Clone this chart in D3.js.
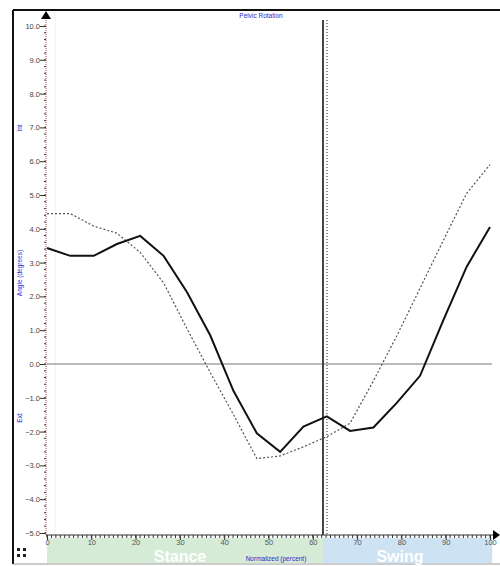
<!DOCTYPE html>
<html>
<head>
<meta charset="utf-8">
<script src="https://cdn.jsdelivr.net/npm/d3@7"></script>
<style>
  body { margin:0; background:#fff; }
  text { font-family: Arial, "Liberation Sans", sans-serif; }
</style>
</head>
<body>
<svg></svg>
<script>

// percent of gait cycle (20 samples)
var percent = [0, 5.26, 10.53, 15.79, 21.05, 26.32, 31.58, 36.84, 42.11, 47.37,
               52.63, 57.89, 63.16, 68.42, 73.68, 78.95, 84.21, 89.47, 94.74, 100];

// patient (solid) and normal (dotted) pelvic rotation, degrees
var patient = [3.43, 3.2, 3.2, 3.55, 3.79, 3.2, 2.13, 0.85, -0.8, -2.05,
               -2.6, -1.85, -1.55, -1.98, -1.88, -1.15, -0.35, 1.3, 2.88, 4.05];
var normal  = [4.45, 4.45, 4.08, 3.87, 3.3, 2.4, 1.05, -0.25, -1.5, -2.8,
               -2.72, -2.45, -2.15, -1.75, -0.5, 0.83, 2.24, 3.66, 5.05, 5.9];

var yTicks = [10, 9, 8, 7, 6, 5, 4, 3, 2, 1, 0, -1, -2, -3, -4, -5];
var xTicks = [0, 10, 20, 30, 40, 50, 60, 70, 80, 90, 100];

var toeOff = 62.3;      // solid vertical
var toeOffNorm = 63.2;  // dotted vertical

var phases = [
  {name:"Stance", from:0, to:62.3, color:"#d5ebd6"},
  {name:"Swing", from:62.3, to:100.5, color:"#cde2f3"}
];

var screen = {width:500, height:566};

var svg = d3.select("svg").attr("width", screen.width).attr("height", screen.height);

var xScale = d3.scaleLinear().domain([0,100]).range([47,490]);
var yScale = d3.scaleLinear().domain([-5,10]).range([533,26]);

var axisY = 535;

// frame
svg.append("line").attr("x1",13).attr("x2",500).attr("y1",10).attr("y2",10)
   .attr("stroke","#111").attr("stroke-width",2);
svg.append("line").attr("x1",13).attr("x2",13).attr("y1",10).attr("y2",564)
   .attr("stroke","#111").attr("stroke-width",2);
svg.append("line").attr("x1",13).attr("x2",500).attr("y1",564).attr("y2",564)
   .attr("stroke","#999").attr("stroke-width",1);

// phase bands
svg.selectAll("rect.phase")
  .data(phases)
  .enter()
  .append("rect")
  .attr("class","phase")
  .attr("x",function(d){return xScale(d.from);})
  .attr("width",function(d){return xScale(d.to)-xScale(d.from);})
  .attr("y",axisY+3)
  .attr("height",25)
  .attr("fill",function(d){return d.color;});

svg.selectAll("text.phase")
  .data(phases)
  .enter()
  .append("text")
  .attr("class","phase")
  .attr("x",function(d){return d.name=="Stance" ? 180 : 400;})
  .attr("y",562)
  .attr("text-anchor","middle")
  .attr("fill","#fff")
  .attr("font-size",16)
  .attr("font-weight","bold")
  .text(function(d){return d.name;});

// faint guide right of the y axis
svg.append("line").attr("x1",55).attr("x2",55).attr("y1",12).attr("y2",axisY)
   .attr("stroke","#eef0f4").attr("stroke-width",1);

// zero line
svg.append("line")
   .attr("x1",xScale(0)).attr("x2",xScale(100)+2)
   .attr("y1",yScale(0)).attr("y2",yScale(0))
   .attr("stroke","#777").attr("stroke-width",1);

// toe-off lines
svg.append("line")
   .attr("x1",xScale(toeOff)).attr("x2",xScale(toeOff))
   .attr("y1",20).attr("y2",axisY)
   .attr("stroke","#444").attr("stroke-width",2);
svg.append("line")
   .attr("x1",xScale(toeOffNorm)).attr("x2",xScale(toeOffNorm))
   .attr("y1",20).attr("y2",axisY)
   .attr("stroke","#222").attr("stroke-width",1).attr("stroke-dasharray","1,2");

// y axis: reddish dotted line, minor + major ticks
var yAxis = d3.axisLeft(yScale)
  .tickValues(yTicks)
  .tickSize(6)
  .tickFormat(d3.format(".1f"));

var gy = svg.append("g").attr("transform","translate(46,0)").call(yAxis);
gy.select(".domain").remove();
gy.selectAll(".tick line").attr("stroke","#333");
gy.selectAll(".tick text").attr("font-size",7.5).attr("fill","#444").attr("x",-6);

var minorY = d3.range(-50,101,2).map(function(v){return v/10;});
gy.selectAll("line.minor")
  .data(minorY)
  .enter()
  .append("line")
  .attr("class","minor")
  .attr("x1",-2).attr("x2",0)
  .attr("y1",function(d){return yScale(d);})
  .attr("y2",function(d){return yScale(d);})
  .attr("stroke","#333");

gy.append("line")
  .attr("x1",0).attr("x2",0).attr("y1",14).attr("y2",axisY)
  .attr("stroke","#b05050").attr("stroke-width",1).attr("stroke-dasharray","1,1");

svg.append("path").attr("d","M46,11 L41,19 L51,19 Z").attr("fill","#000");

// x axis
var xAxis = d3.axisBottom(xScale)
  .tickValues(xTicks)
  .tickSize(5)
  .tickFormat(d3.format("d"));

var gx = svg.append("g").attr("transform","translate(0,"+axisY+")").call(xAxis);
gx.select(".domain").remove();
gx.selectAll(".tick line").attr("stroke","#333");
gx.selectAll(".tick text").attr("font-size",7.5).attr("fill","#555").attr("y",5);

gx.selectAll("line.minor")
  .data(d3.range(0,101,1))
  .enter()
  .append("line")
  .attr("class","minor")
  .attr("x1",function(d){return xScale(d);})
  .attr("x2",function(d){return xScale(d);})
  .attr("y1",0).attr("y2",3)
  .attr("stroke","#333");

gx.append("line").attr("x1",46).attr("x2",494).attr("y1",0).attr("y2",0)
  .attr("stroke","#333").attr("stroke-width",1);
svg.append("path").attr("d","M500,"+axisY+" L493,"+(axisY-5)+" L493,"+(axisY+5)+" Z").attr("fill","#000");

// curves
var line = d3.line()
  .x(function(d,i){return xScale(percent[i]);})
  .y(function(d){return yScale(d);});

svg.append("path").datum(normal)
  .attr("d",line)
  .attr("fill","none")
  .attr("stroke","#555")
  .attr("stroke-width",1.2)
  .attr("stroke-dasharray","2,2");

svg.append("path").datum(patient)
  .attr("d",line)
  .attr("fill","none")
  .attr("stroke","#111")
  .attr("stroke-width",2);

// labels
svg.append("text").attr("x",261).attr("y",18).attr("text-anchor","middle")
   .attr("font-size",6.5).attr("fill","#2a2ad0").text("Pelvic Rotation");

svg.append("text").attr("x",276).attr("y",561).attr("text-anchor","middle")
   .attr("font-size",6.5).attr("fill","#2a2ad0").text("Normalized (percent)");

svg.append("text").attr("transform","translate(22,273) rotate(-90)")
   .attr("text-anchor","middle").attr("font-size",6.5).attr("fill","#2a2ad0")
   .text("Angle (degrees)");
svg.append("text").attr("transform","translate(22,128) rotate(-90)")
   .attr("text-anchor","middle").attr("font-size",6.5).attr("fill","#2a2ad0")
   .text("Int");
svg.append("text").attr("transform","translate(22,418) rotate(-90)")
   .attr("text-anchor","middle").attr("font-size",6.5).attr("fill","#2a2ad0")
   .text("Ext");

// little expand icon, bottom left
var icon = svg.append("g").attr("transform","translate(17,548)").attr("fill","#222");
[[0,0],[6,0],[0,6],[6,6]].forEach(function(p){
  icon.append("rect").attr("x",p[0]).attr("y",p[1]).attr("width",3).attr("height",3);
});

</script>
</body>
</html>
